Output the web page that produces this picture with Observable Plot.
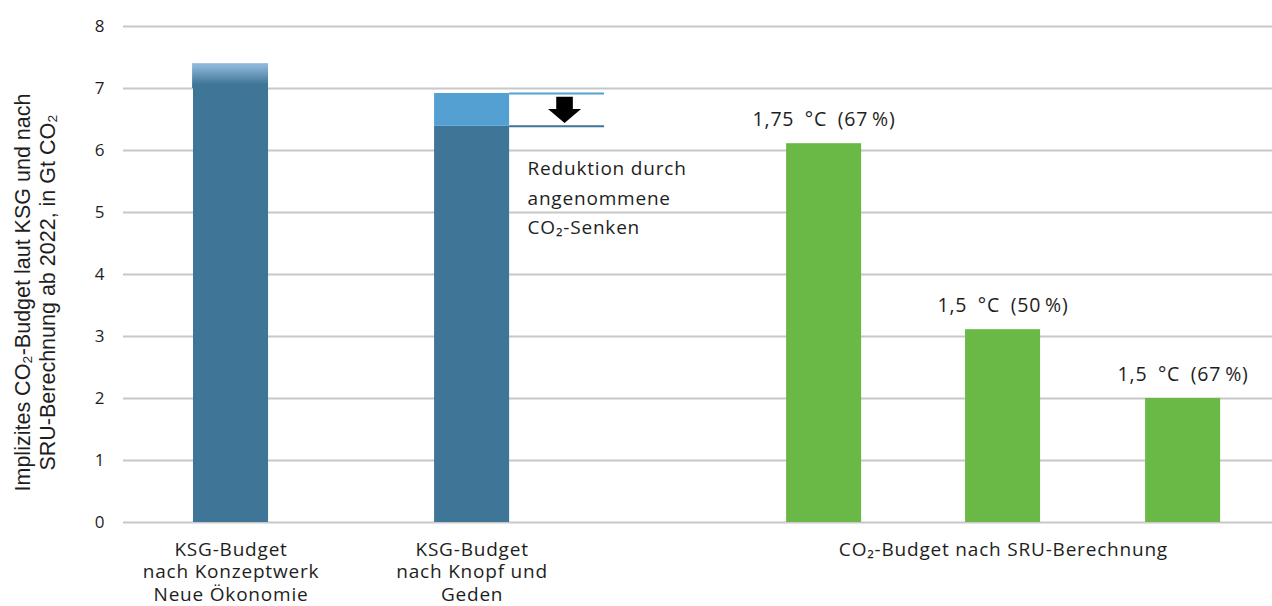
<!DOCTYPE html>
<html><head><meta charset="utf-8">
<script src="https://cdn.jsdelivr.net/npm/d3@7"></script>
<script src="https://cdn.jsdelivr.net/npm/@observablehq/plot@0.6"></script>
<style>
html,body{margin:0;padding:0;background:#fff;}
#chart svg{display:block;}
#chart svg g[aria-label="text"] text{letter-spacing:0.8px;}
</style></head><body><div id="chart"></div>
<script>
// ---- data ----
const categories = ["KSG-Budget nach Konzeptwerk Neue Ökonomie", "KSG-Budget nach Knopf und Geden", "1,75\u2002°C\u2002(67\u2009%)", "1,5\u2002°C\u2002(50\u2009%)", "1,5\u2002°C\u2002(67\u2009%)"];
const groupLabels = ["KSG-Budget\nnach Konzeptwerk\nNeue Ökonomie", "KSG-Budget\nnach Knopf und\nGeden", "CO₂-Budget nach SRU-Berechnung"];
const groupOf = [0, 1, 2, 2, 2];
const baseValues = [7.0, 6.39, 6.11, 3.11, 2.0];     // Gt CO2
const upperValues = [7.4, 6.92, null, null, null];   // upper end (before sink reduction)
const yTicks = [0, 1, 2, 3, 4, 5, 6, 7, 8];
const yTitle = "Implizites CO₂-Budget laut KSG und nach\nSRU-Berechnung ab 2022, in Gt CO₂";
const annotation = "Reduktion durch\nangenommene\nCO₂-Senken";

// ---- layout (category slots on x) ----
const slots = [0, 1.343, 3.304, 4.301, 5.304];
const barW = 0.418;
const idx = d3.range(categories.length);
const dark = "#3f7597", light = "#55a0d3", green = "#6ab946";
const ink = "#1e1e1e";
const font = "'Open Sans', sans-serif";

const arrowSymbol = {
  draw(ctx) {
    ctx.moveTo(-8.3, -13.2); ctx.lineTo(8.3, -13.2); ctx.lineTo(8.3, -0.9);
    ctx.lineTo(16.5, -0.9); ctx.lineTo(0, 13.1); ctx.lineTo(-16.5, -0.9);
    ctx.lineTo(-8.3, -0.9); ctx.closePath();
  }
};

const defsMark = () => {
  const ns = "http://www.w3.org/2000/svg";
  const defs = document.createElementNS(ns, "defs");
  defs.innerHTML = `<linearGradient id="topgrad" x1="0" y1="0" x2="0" y2="1">
    <stop offset="0.1" stop-color="#8db6d9"/><stop offset="0.85" stop-color="${dark}"/></linearGradient>`;
  return defs;
};

const groupX = groupLabels.map((_, g) => d3.mean(idx.filter(i => groupOf[i] === g), i => slots[i]));

const chart = Plot.plot({
  width: 1272, height: 606,
  marginLeft: 123, marginRight: 0, marginTop: 26, marginBottom: 84,
  style: {fontFamily: font, fontSize: "17px", color: ink, background: "#fff"},
  x: {domain: [-0.599, 5.802], axis: null},
  y: {domain: [0, 8], ticks: yTicks},
  marks: [
    defsMark,
    Plot.ruleY(yTicks, {stroke: "#c8c8c8", strokeWidth: 2}),
    Plot.axisY({ticks: yTicks, tickSize: 0, tickPadding: 19, label: null, tickFormat: d => String(d), fontSize: 17}),
    Plot.rectY(idx, {x1: i => slots[i] - barW / 2, x2: i => slots[i] + barW / 2, y1: 0, y2: i => baseValues[i],
      fill: i => groupOf[i] < 2 ? dark : green}),
    Plot.rectY([0], {x1: i => slots[i] - barW / 2 - 0.005, x2: i => slots[i] + barW / 2, y1: i => baseValues[i], y2: i => upperValues[i],
      fill: "url(#topgrad)"}),
    Plot.rectY([1], {x1: i => slots[i] - barW / 2, x2: i => slots[i] + barW / 2, y1: i => baseValues[i], y2: i => upperValues[i],
      fill: light}),
    Plot.ruleY([1], {y: i => upperValues[i], x1: i => slots[i] + barW / 2, x2: i => slots[i] + 0.738, stroke: light, strokeWidth: 2}),
    Plot.ruleY([1], {y: i => baseValues[i], x1: i => slots[i] + barW / 2, x2: i => slots[i] + 0.738, stroke: dark, strokeWidth: 2}),
    Plot.dot([1], {x: i => slots[i] + 0.515, y: i => (upperValues[i] + baseValues[i]) / 2, symbol: arrowSymbol, fill: "#000", stroke: null}),
    Plot.text([annotation], {x: slots[1] + 0.309, y: 5.28, textAnchor: "start", lineAnchor: "middle", lineHeight: 1.55, fontSize: 19, fill: ink}),
    Plot.text(idx.filter(i => groupOf[i] === 2), {x: i => slots[i], y: i => baseValues[i], text: i => categories[i], dy: -24, lineAnchor: "middle", fontSize: 19.5, fill: ink}),
    Plot.text(groupLabels, {x: (d, g) => groupX[g], frameAnchor: "bottom", dy: 17, lineAnchor: "top", lineHeight: 1.2, fontSize: 19, fill: ink}),
    Plot.text([yTitle], {frameAnchor: "left", textAnchor: "middle", rotate: -90, dx: -89, dy: 18, fontFamily: "'Liberation Sans', sans-serif", fontSize: 21.5, lineHeight: 1.16, fill: ink})
  ]
});
document.getElementById("chart").append(chart);
// the rotated axis title keeps normal spacing
chart.querySelectorAll('g[aria-label="text"] text[transform*="rotate"]').forEach(t => t.style.letterSpacing = "0px");
</script></body></html>
